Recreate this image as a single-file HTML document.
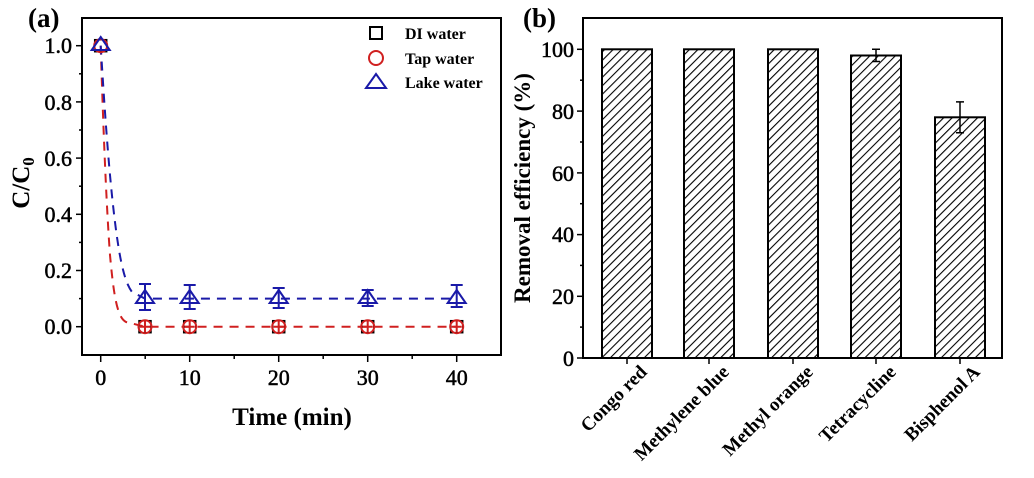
<!DOCTYPE html>
<html><head><meta charset="utf-8"><style>
body{margin:0;background:#fff}
svg{display:block;font-family:"Liberation Serif",serif}
</style></head><body>
<svg width="1034" height="478" viewBox="0 0 1034 478" xmlns="http://www.w3.org/2000/svg">
<defs>
<pattern id="h" patternUnits="userSpaceOnUse" width="6" height="6" patternTransform="rotate(45)">
<rect width="6" height="6" fill="#fff"/><line x1="0" y1="0" x2="0" y2="6" stroke="#000" stroke-width="2.2"/>
</pattern>
</defs>
<!-- Panel a -->
<text x="28" y="27" font-size="27" font-weight="bold">(a)</text>
<rect x="82" y="18" width="419" height="337" fill="none" stroke="#000" stroke-width="2"/>
<g stroke="#000" stroke-width="1.5">
<line x1="100.7" y1="355" x2="100.7" y2="362"/><line x1="189.7" y1="355" x2="189.7" y2="362"/><line x1="278.7" y1="355" x2="278.7" y2="362"/><line x1="367.7" y1="355" x2="367.7" y2="362"/><line x1="456.7" y1="355" x2="456.7" y2="362"/>
<line x1="145.2" y1="355" x2="145.2" y2="359"/><line x1="234.2" y1="355" x2="234.2" y2="359"/><line x1="323.2" y1="355" x2="323.2" y2="359"/><line x1="412.2" y1="355" x2="412.2" y2="359"/>
<line x1="76" y1="326.7" x2="82" y2="326.7"/><line x1="76" y1="270.5" x2="82" y2="270.5"/><line x1="76" y1="214.3" x2="82" y2="214.3"/><line x1="76" y1="158.1" x2="82" y2="158.1"/><line x1="76" y1="101.9" x2="82" y2="101.9"/><line x1="76" y1="45.7" x2="82" y2="45.7"/>
<line x1="79" y1="298.6" x2="82" y2="298.6"/><line x1="79" y1="242.4" x2="82" y2="242.4"/><line x1="79" y1="186.2" x2="82" y2="186.2"/><line x1="79" y1="130" x2="82" y2="130"/><line x1="79" y1="73.8" x2="82" y2="73.8"/>
</g>
<g font-size="22" text-anchor="end" stroke="#000" stroke-width="0.5">
<text x="72" y="334">0.0</text><text x="72" y="278">0.2</text><text x="72" y="222">0.4</text><text x="72" y="166">0.6</text><text x="72" y="110">0.8</text><text x="72" y="53">1.0</text>
</g>
<g font-size="22" text-anchor="middle" stroke="#000" stroke-width="0.5">
<text x="100.7" y="385">0</text><text x="189.7" y="385">10</text><text x="278.7" y="385">20</text><text x="367.7" y="385">30</text><text x="456.7" y="385">40</text>
</g>
<text x="292" y="425" font-size="25" font-weight="bold" text-anchor="middle">Time (min)</text>
<text transform="translate(29,183) rotate(-90)" font-size="25" font-weight="bold" text-anchor="middle">C/C<tspan font-size="17" dy="5">0</tspan></text>
<!-- curves -->
<path d="M100.7,45.7 C103,120 106,200 110,255 C114,300 118,318 126,322 L145,326.7 L456.7,326.7" fill="none" stroke="#d02020" stroke-width="2" stroke-dasharray="9,7"/>
<path d="M100.7,45.7 C104,100 108,160 113,205 C118,250 123,280 132,292 L145,298.6 L456.7,298.6" fill="none" stroke="#1a1aa8" stroke-width="2" stroke-dasharray="9,7"/>
<!-- blue error bars and triangles -->
<g stroke="#1a1aa8" stroke-width="2" fill="none">
<path d="M145,284 v26 M139,284 h12 M139,310 h12"/>
<path d="M189.7,285 v24 M183.7,285 h12 M183.7,309 h12"/>
<path d="M278.7,288 v20 M272.7,288 h12 M272.7,308 h12"/>
<path d="M367.7,290 v16 M361.7,290 h12 M361.7,306 h12"/>
<path d="M456.7,285 v22 M450.7,285 h12 M450.7,307 h12"/>
<path d="M145,290 l9,13 h-18 z M189.7,290 l9,13 h-18 z M278.7,290 l9,13 h-18 z M367.7,290 l9,13 h-18 z M456.7,290 l9,13 h-18 z"/>
</g>
<!-- squares and circles -->
<g stroke="#000" stroke-width="1.5" fill="none">
<rect x="139" y="320.7" width="12" height="12"/><rect x="183.7" y="320.7" width="12" height="12"/><rect x="272.7" y="320.7" width="12" height="12"/><rect x="361.7" y="320.7" width="12" height="12"/><rect x="450.7" y="320.7" width="12" height="12"/>
</g>
<g stroke="#d02020" stroke-width="2" fill="none">
<circle cx="145" cy="326.7" r="6.5"/><circle cx="189.7" cy="326.7" r="6.5"/><circle cx="278.7" cy="326.7" r="6.5"/><circle cx="367.7" cy="326.7" r="6.5"/><circle cx="456.7" cy="326.7" r="6.5"/>
<path d="M145,321v11M140,326.7h10M189.7,321v11M184.7,326.7h10M278.7,321v11M273.7,326.7h10M367.7,321v11M362.7,326.7h10M456.7,321v11M451.7,326.7h10"/>
</g>
<!-- start point -->
<rect x="94.7" y="39.7" width="12" height="12" fill="none" stroke="#000" stroke-width="1.5"/>
<circle cx="100.7" cy="45.7" r="6.5" fill="none" stroke="#d02020" stroke-width="2"/>
<path d="M100.7,37 l9,13 h-18 z" fill="none" stroke="#1a1aa8" stroke-width="2"/>
<!-- legend -->
<rect x="370" y="27" width="12" height="12" fill="none" stroke="#000" stroke-width="2"/>
<circle cx="376" cy="58" r="7" fill="none" stroke="#d02020" stroke-width="2"/>
<path d="M376,74 l10,14 h-20 z" fill="none" stroke="#1a1aa8" stroke-width="2"/>
<g font-size="16" font-weight="bold">
<text x="405" y="39">DI water</text><text x="405" y="64">Tap water</text><text x="405" y="88">Lake water</text>
</g>
<!-- Panel b -->
<text x="523" y="27" font-size="27" font-weight="bold">(b)</text>
<g stroke="#000" stroke-width="2">
<rect x="602" y="49.3" width="50" height="308.7" fill="url(#h)"/>
<rect x="684" y="49.3" width="50" height="308.7" fill="url(#h)"/>
<rect x="768" y="49.3" width="50" height="308.7" fill="url(#h)"/>
<rect x="851" y="55.5" width="50" height="302.5" fill="url(#h)"/>
<rect x="935" y="117.3" width="50" height="240.7" fill="url(#h)"/>
</g>
<g stroke="#000" stroke-width="1.5">
<path d="M876,49.3v12M872,49.3h8M872,61.5h8"/>
<path d="M960,101.9v31M956,101.9h8M956,132.8h8"/>
</g>
<rect x="583" y="18" width="419" height="340" fill="none" stroke="#000" stroke-width="2"/>
<g stroke="#000" stroke-width="1.5">
<line x1="627" y1="358" x2="627" y2="364"/><line x1="709" y1="358" x2="709" y2="364"/><line x1="793" y1="358" x2="793" y2="364"/><line x1="876" y1="358" x2="876" y2="364"/><line x1="960" y1="358" x2="960" y2="364"/>
<line x1="577" y1="358" x2="583" y2="358"/><line x1="577" y1="296.3" x2="583" y2="296.3"/><line x1="577" y1="234.6" x2="583" y2="234.6"/><line x1="577" y1="172.9" x2="583" y2="172.9"/><line x1="577" y1="111.1" x2="583" y2="111.1"/><line x1="577" y1="49.3" x2="583" y2="49.3"/>
<line x1="580" y1="327.1" x2="583" y2="327.1"/><line x1="580" y1="265.4" x2="583" y2="265.4"/><line x1="580" y1="203.7" x2="583" y2="203.7"/><line x1="580" y1="142" x2="583" y2="142"/><line x1="580" y1="80.2" x2="583" y2="80.2"/>
</g>
<g font-size="22" text-anchor="end" stroke="#000" stroke-width="0.5">
<text x="574" y="366">0</text><text x="574" y="304">20</text><text x="574" y="242">40</text><text x="574" y="181">60</text><text x="574" y="119">80</text><text x="574" y="57">100</text>
</g>
<text transform="translate(530,188) rotate(-90)" font-size="23" font-weight="bold" text-anchor="middle">Removal efficiency (%)</text>
<g font-size="19" font-weight="bold" text-anchor="end">
<text transform="translate(648,373) rotate(-45)">Congo red</text>
<text transform="translate(730,373) rotate(-45)">Methylene blue</text>
<text transform="translate(814,373) rotate(-45)">Methyl orange</text>
<text transform="translate(897,373) rotate(-45)">Tetracycline</text>
<text transform="translate(981,373) rotate(-45)">Bisphenol A</text>
</g>
</svg>
</body></html>
